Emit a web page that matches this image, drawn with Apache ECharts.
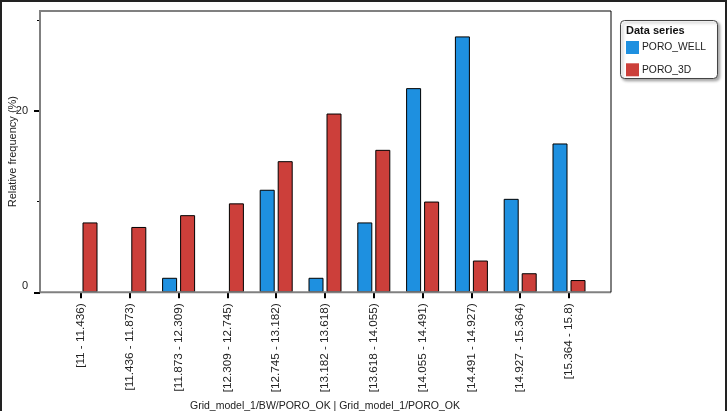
<!DOCTYPE html>
<html>
<head>
<meta charset="utf-8">
<script src="https://cdn.jsdelivr.net/npm/echarts@6/dist/echarts.min.js"></script>
<style>
html,body{margin:0;padding:0;background:#fff;}
#chart{width:727px;height:411px;}
</style>
</head>
<body>
<div id="chart"></div>
<script>
var categories = ['[11 - 11.436)', '[11.436 - 11.873)', '[11.873 - 12.309)', '[12.309 - 12.745)', '[12.745 - 13.182)', '[13.182 - 13.618)', '[13.618 - 14.055)', '[14.055 - 14.491)', '[14.491 - 14.927)', '[14.927 - 15.364)', '[15.364 - 15.8)'];
var poroWell = [0, 0, 1.6, 0, 11.3, 1.6, 7.7, 22.5, 28.2, 10.3, 16.4];
var poro3D = [7.7, 7.2, 8.5, 9.8, 14.45, 19.7, 15.7, 10.0, 3.5, 2.1, 1.35];
var seriesNames = ['PORO_WELL', 'PORO_3D'];
var yMajorTicks = [0, 20];
var yMinorTicks = [10, 30];
var xTitle = 'Grid_model_1/BW/PORO_OK | Grid_model_1/PORO_OK';
var yTitle = 'Relative frequency (%)';
var legendTitle = 'Data series';

var FONT = '"Liberation Sans", Arial, sans-serif';
var chart = echarts.init(document.getElementById('chart'), null, {renderer: 'canvas'});

var frameL = 40, frameR = 611, frameT = 11, frameB = 292.3;

function noZero(arr) { return arr.map(function (v) { return v === 0 ? null : v; }); }

chart.setOption({
  animation: false,
  backgroundColor: '#fff',
  grid: {left: 56.6, right: 727 - 593.4, top: frameT, bottom: 411 - frameB, containLabel: false, outerBoundsMode: 'none'},
  xAxis: {
    type: 'category',
    data: categories,
    axisLine: {show: false},
    axisTick: {show: true, alignWithLabel: true, length: 6, lineStyle: {color: '#000', width: 2}},
    axisLabel: {rotate: 90, margin: 11, fontSize: 11.7, fontFamily: FONT, color: '#222'},
    name: xTitle,
    nameLocation: 'middle',
    nameGap: 103,
    nameTextStyle: {fontSize: 10.5, fontFamily: FONT, color: '#222'}
  },
  yAxis: [{
    type: 'value', min: 0, max: 31,
    offset: 16.6,
    splitLine: {show: false},
    axisLine: {show: true, lineStyle: {color: '#808080', width: 2}},
    axisTick: {show: true, length: 3, customValues: yMinorTicks, lineStyle: {color: '#000', width: 1}},
    axisLabel: {show: false},
    name: yTitle,
    nameLocation: 'middle',
    nameGap: 22,
    nameTextStyle: {fontSize: 11, fontFamily: FONT, color: '#222'}
  }, {
    type: 'value', min: 0, max: 31,
    position: 'left',
    offset: 16.6,
    splitLine: {show: false},
    axisLine: {show: false},
    axisTick: {show: true, length: 6, customValues: yMajorTicks, lineStyle: {color: '#000', width: 2}},
    axisLabel: {
      customValues: yMajorTicks,
      margin: 12, fontSize: 11, fontFamily: FONT, color: '#222',
      formatter: function (v) { return v === 0 ? '{z|0}' : String(v); },
      rich: {z: {fontSize: 11, fontFamily: FONT, color: '#222', padding: [0, 0, 12, 0]}}
    }
  }],
  legend: {
    orient: 'vertical',
    left: 626, top: 41, padding: 0,
    itemWidth: 13, itemHeight: 13, itemGap: 9.3,
    icon: 'rect',
    itemStyle: {borderWidth: 0},
    textStyle: {fontSize: 10.3, fontFamily: FONT, color: '#222', padding: [0, 0, 0, -2]},
    data: seriesNames
  },
  series: [{
    name: seriesNames[0], type: 'bar', data: noZero(poroWell),
    barWidth: 15, barGap: '20%',
    itemStyle: {color: '#1E90E0', borderColor: '#000', borderWidth: 1}
  }, {
    name: seriesNames[1], type: 'bar', data: noZero(poro3D),
    barWidth: 15, barGap: '20%',
    itemStyle: {color: '#CC3F3A', borderColor: '#000', borderWidth: 1}
  }],
  graphic: [
    {type: 'polyline', shape: {points: [[1, 411], [1, 1], [726, 1], [726, 411]]}, style: {fill: null, stroke: '#222', lineWidth: 2}, silent: true},
    {type: 'polyline', shape: {points: [[frameL, frameB], [frameL, frameT], [frameR, frameT]]}, style: {fill: null, stroke: '#808080', lineWidth: 2}, z: 10},
    {type: 'line', shape: {x1: frameL, y1: frameB, x2: frameR, y2: frameB}, style: {stroke: '#808080', lineWidth: 2}, z: 10},
    {type: 'line', shape: {x1: frameR, y1: frameT, x2: frameR, y2: frameB}, style: {stroke: '#000', lineWidth: 1}, z: 10},
    {type: 'rect', shape: {x: 620.5, y: 20.5, width: 97, height: 58, r: 4}, style: {fill: '#fff', stroke: '#444', lineWidth: 1, shadowBlur: 3, shadowOffsetX: 2, shadowOffsetY: 2, shadowColor: 'rgba(0,0,0,0.35)'}, z: 1},
    {type: 'text', x: 626, y: 25, style: {text: legendTitle, font: 'bold 11px ' + FONT, fill: '#111'}, z: 2}
  ]
});
</script>
</body>
</html>
